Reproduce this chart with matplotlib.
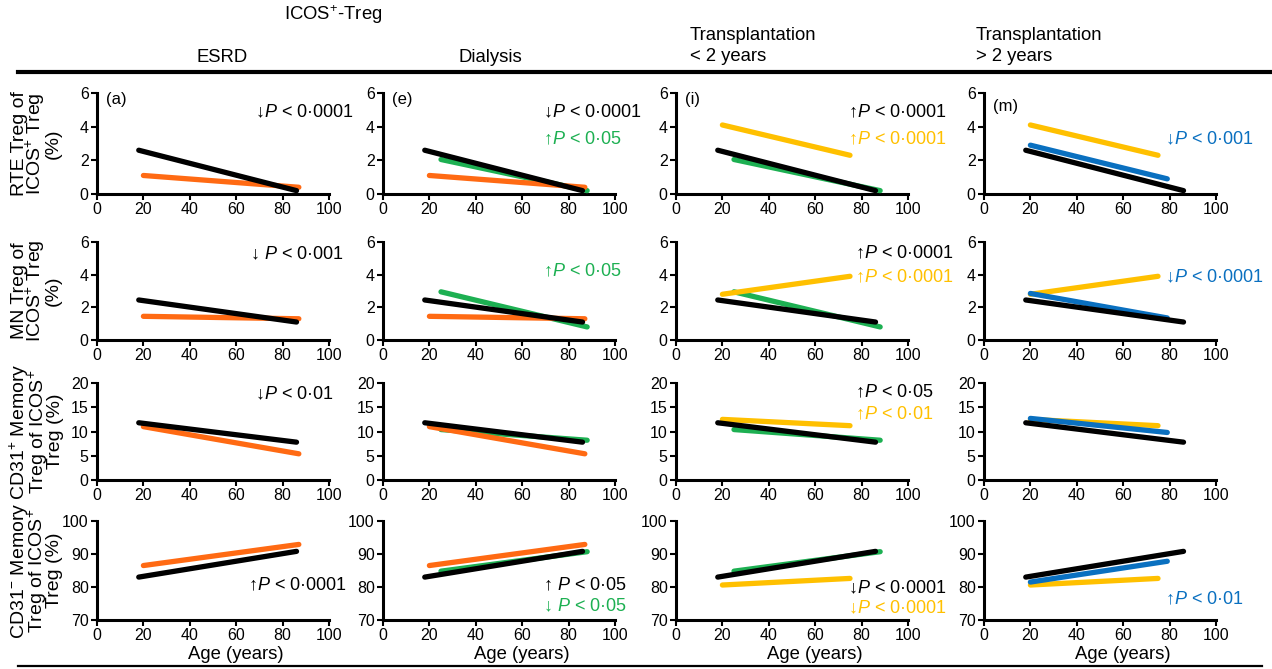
import matplotlib
matplotlib.use("Agg")
import matplotlib.pyplot as plt
from matplotlib.lines import Line2D

plt.rcParams['font.family'] = ['Liberation Sans', 'DejaVu Sans']
plt.rcParams['mathtext.fontset'] = 'custom'
plt.rcParams['mathtext.rm'] = 'Liberation Sans'
plt.rcParams['mathtext.it'] = 'Liberation Sans:italic'

# ---------------- data ----------------
groups = ['HC', 'ESRD', 'Dialysis', 'Tx<2y', 'Tx>2y']
group_colors = ['#000000', '#FF6A13', '#1DB052', '#FFC000', '#0A70C0']
age_start = [18, 20, 25, 20, 20]
age_end = [86, 87, 88, 75, 79]

rte_start = [2.6, 1.1, 2.05, 4.1, 2.9]
rte_end = [0.2, 0.4, 0.2, 2.3, 0.9]
mn_start = [2.45, 1.45, 2.95, 2.8, 2.85]
mn_end = [1.1, 1.3, 0.8, 3.9, 1.35]
cd31p_start = [11.8, 11.0, 10.4, 12.5, 12.7]
cd31p_end = [7.8, 5.4, 8.2, 11.2, 9.8]
cd31n_start = [83.0, 86.5, 84.8, 80.6, 81.5]
cd31n_end = [90.8, 92.9, 90.7, 82.6, 87.8]

row_labels = ['RTE Treg of\nICOS$^{+}$ Treg\n(%)',
              'MN Treg of\nICOS$^{+}$ Treg\n(%)',
              'CD31$^{+}$ Memory\nTreg of ICOS$^{+}$\nTreg (%)',
              'CD31$^{-}$ Memory\nTreg of ICOS$^{+}$\nTreg (%)']
row_ylims = [(0, 6), (0, 6), (0, 20), (70, 100)]
row_yticks = [[0, 2, 4, 6], [0, 2, 4, 6], [0, 5, 10, 15, 20], [70, 80, 90, 100]]
x_ticks = [0, 20, 40, 60, 80, 100]

col_titles = ['ESRD', 'Dialysis', 'Transplantation\n< 2 years', 'Transplantation\n> 2 years']
col_groups = [[1, 0], [2, 1, 0], [2, 0, 3], [0, 3, 4]]
panel_letters = {(0, 0): '(a)', (0, 1): '(e)', (0, 2): '(i)', (0, 3): '(m)'}

# annotations: (row, col) -> list of (text, color index, x, y)
annots = {
    (0, 0): [('↓$P$ < 0·0001', 0, 68, 4.8)],
    (0, 1): [('↓$P$ < 0·0001', 0, 69, 4.8), ('↑$P$ < 0·05', 2, 69, 3.2)],
    (0, 2): [('↑$P$ < 0·0001', 0, 74, 4.8), ('↑$P$ < 0·0001', 3, 74, 3.2)],
    (0, 3): [('↓$P$ < 0·001', 4, 78, 3.2)],
    (1, 0): [('↓ $P$ < 0·001', 0, 66, 5.2)],
    (1, 1): [('↑$P$ < 0·05', 2, 69, 4.15)],
    (1, 2): [('↑$P$ < 0·0001', 0, 77, 5.3), ('↑$P$ < 0·0001', 3, 77, 3.8)],
    (1, 3): [('↓$P$ < 0·0001', 4, 78, 3.8)],
    (2, 0): [('↓$P$ < 0·01', 0, 68, 17.5)],
    (2, 2): [('↑$P$ < 0·05', 0, 77, 17.9), ('↑$P$ < 0·01', 3, 77, 13.4)],
    (3, 0): [('↑$P$ < 0·0001', 0, 65, 80.5)],
    (3, 1): [('↑ $P$ < 0·05', 0, 69, 80.5), ('↓ $P$ < 0·05', 2, 69, 74)],
    (3, 2): [('↓$P$ < 0·0001', 0, 74, 79.5), ('↓$P$ < 0·0001', 3, 74, 73.5)],
    (3, 3): [('↑$P$ < 0·01', 4, 78, 76)],
}

row_starts = [rte_start, mn_start, cd31p_start, cd31n_start]
row_ends = [rte_end, mn_end, cd31p_end, cd31n_end]

# ---------------- layout ----------------
W, H = 1272, 669
fig = plt.figure(figsize=(W / 100, H / 100), dpi=100)
col_left = [97, 383, 676, 984]
col_w = 232
row_tb = [(93, 194), (242, 340), (383, 480), (521, 620)]
FS = 11.5
HFS = 13.3

for r in range(4):
    top, bot = row_tb[r]
    for c in range(4):
        ax = fig.add_axes([col_left[c] / W, 1 - bot / H, col_w / W, (bot - top) / H])
        for g in col_groups[c]:
            ax.plot([age_start[g], age_end[g]], [row_starts[r][g], row_ends[r][g]],
                    color=group_colors[g], lw=3.8, solid_capstyle='round', zorder=3 if g else 4)
        ax.set_xlim(0, 100)
        ax.set_ylim(*row_ylims[r])
        ax.set_xticks(x_ticks)
        ax.set_yticks(row_yticks[r])
        for s in ['top', 'right']:
            ax.spines[s].set_visible(False)
        for s in ['left', 'bottom']:
            ax.spines[s].set_linewidth(2.2)
        ax.tick_params(direction='out', length=4, width=1.5, labelsize=FS, pad=2)
        if r == 3:
            ax.set_xlabel('Age (years)', fontsize=13.3, labelpad=2)
            ax.xaxis.label.set_x(0.6)
        if (r, c) in panel_letters:
            yl = 5.6 if c < 3 else 5.2
            ax.text(4, yl, panel_letters[(r, c)], fontsize=FS + 0.5, va='center', ha='left')
        for (txt, gi, tx, ty) in annots.get((r, c), []):
            ax.text(tx, ty, txt, color=group_colors[gi], fontsize=FS + 1.5,
                    va='center', ha='left', clip_on=False)
    fig.text(36 / W, 1 - (top + bot) / 2 / H, row_labels[r], rotation=90,
             ha='center', va='center', fontsize=14, multialignment='center',
             linespacing=0.78)

# column headers
fig.text(333 / W, 1 - 15 / H, 'ICOS$^{+}$-Treg', ha='center', va='center', fontsize=HFS)
fig.text(222 / W, 1 - 57 / H, col_titles[0], ha='center', va='center', fontsize=HFS)
fig.text(490 / W, 1 - 57 / H, col_titles[1], ha='center', va='center', fontsize=HFS)
fig.text(690 / W, 1 - 46 / H, col_titles[2], ha='left', va='center', fontsize=HFS,
         linespacing=1.25)
fig.text(976 / W, 1 - 46 / H, col_titles[3], ha='left', va='center', fontsize=HFS,
         linespacing=1.25)

# rules
fig.add_artist(Line2D([18 / W, 1.0], [1 - 72 / H, 1 - 72 / H], color='black', lw=3,
                      transform=fig.transFigure))
fig.add_artist(Line2D([18 / W, 1262 / W], [1 - 666 / H, 1 - 666 / H], color='black', lw=1.6,
                      transform=fig.transFigure))

fig.savefig('out.png', dpi=100)
